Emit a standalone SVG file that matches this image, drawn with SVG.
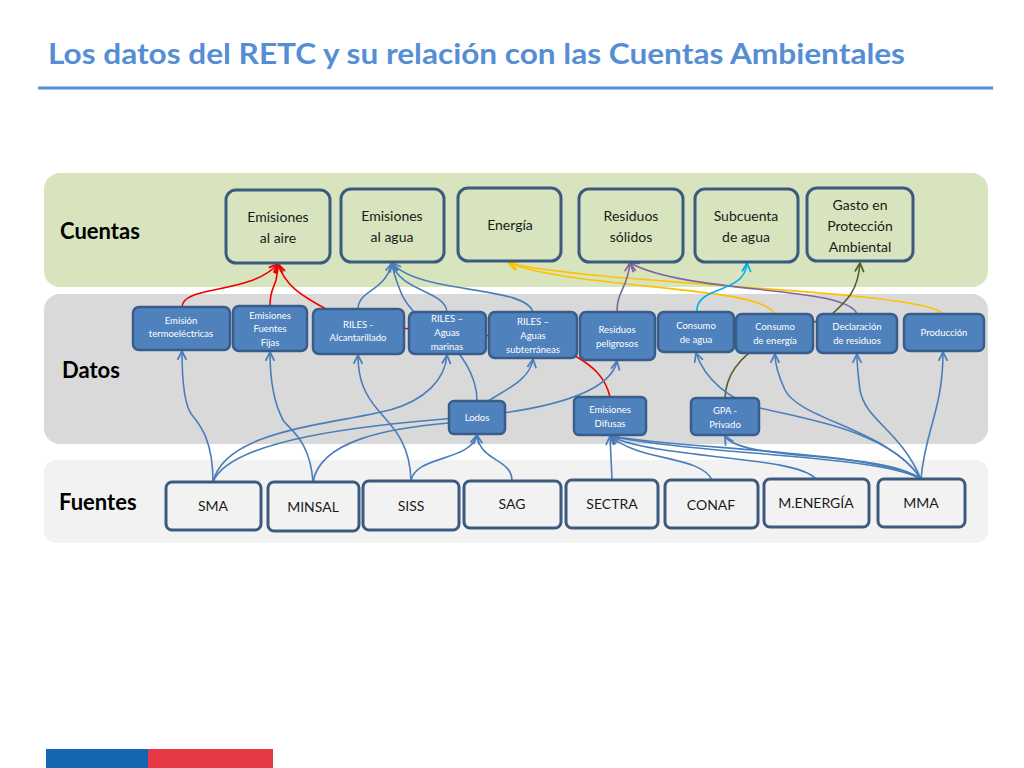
<svg xmlns="http://www.w3.org/2000/svg" width="1024" height="768" viewBox="0 0 1024 768">
<style>
.t{font-family:Lato,"Open Sans","Liberation Sans",sans-serif}
.band-c{fill:#d7e4bd}
.band-d{fill:#d9d9d9}
.band-f{fill:#f2f2f2}
.lab{font-family:Lato,"Liberation Sans",sans-serif;font-weight:bold;font-size:22px;fill:#000}
.cn rect{fill:#d7e4bd;stroke:#3c5a80;stroke-width:3}
.cn text{font-family:Lato,"Liberation Sans",sans-serif;font-size:14px;fill:#1a1a1a;text-anchor:middle}
.dn rect{fill:#4f81bd;stroke:#385d8a;stroke-width:2.5}
.dn text{font-family:Lato,"Liberation Sans",sans-serif;font-size:9.5px;fill:#fff;text-anchor:middle}
.fn rect{fill:#f2f2f2;stroke:#3c5a80;stroke-width:3}
.fn text{font-family:Lato,"Liberation Sans",sans-serif;font-size:14px;fill:#1a1a1a;text-anchor:middle}
.c{fill:none;stroke-width:1.6}
.b{stroke:#4a7ebb;marker-end:url(#ab)}
.r{stroke:#ee0000;marker-end:url(#ar)}
.y{stroke:#ffc000;marker-end:url(#ay)}
.p{stroke:#7f64a2;marker-end:url(#ap)}
.cy{stroke:#00b0f0;marker-end:url(#ac)}
.o{stroke:#4f6228;marker-end:url(#ao)}
.nm{marker-end:none}
</style>
<defs>
<marker id="ab" viewBox="0 0 10 10" refX="9" refY="5" markerWidth="11" markerHeight="11" markerUnits="userSpaceOnUse" orient="auto"><path d="M1,1 L9,5 L1,9" fill="none" stroke="#4a7ebb" stroke-width="1.6"/></marker>
<marker id="ar" viewBox="0 0 10 10" refX="9" refY="5" markerWidth="11" markerHeight="11" markerUnits="userSpaceOnUse" orient="auto"><path d="M1,1 L9,5 L1,9" fill="none" stroke="#ee0000" stroke-width="1.8"/></marker>
<marker id="ay" viewBox="0 0 10 10" refX="9" refY="5" markerWidth="11" markerHeight="11" markerUnits="userSpaceOnUse" orient="auto"><path d="M1,1 L9,5 L1,9" fill="none" stroke="#ffc000" stroke-width="1.8"/></marker>
<marker id="ap" viewBox="0 0 10 10" refX="9" refY="5" markerWidth="11" markerHeight="11" markerUnits="userSpaceOnUse" orient="auto"><path d="M1,1 L9,5 L1,9" fill="none" stroke="#7f64a2" stroke-width="1.6"/></marker>
<marker id="ac" viewBox="0 0 10 10" refX="9" refY="5" markerWidth="11" markerHeight="11" markerUnits="userSpaceOnUse" orient="auto"><path d="M1,1 L9,5 L1,9" fill="none" stroke="#00b0f0" stroke-width="1.6"/></marker>
<marker id="ao" viewBox="0 0 10 10" refX="9" refY="5" markerWidth="11" markerHeight="11" markerUnits="userSpaceOnUse" orient="auto"><path d="M1,1 L9,5 L1,9" fill="none" stroke="#4f6228" stroke-width="1.6"/></marker>
</defs>

<rect width="1024" height="768" fill="#fff"/>
<g id="title">
<text class="t" x="48" y="64" font-size="29" font-weight="bold" fill="#558ed5" textLength="857" lengthAdjust="spacingAndGlyphs">Los datos del RETC y su relación con las Cuentas Ambientales</text>
<line x1="38" y1="88" x2="993" y2="88" stroke="#558ed5" stroke-width="3"/>
</g>

<g id="bands">
<rect class="band-c" x="44" y="173" width="944" height="114" rx="16"/>
<rect class="band-d" x="44" y="294" width="944" height="150" rx="16"/>
<rect class="band-f" x="44" y="460" width="944" height="83" rx="12"/>
<text class="lab" x="60" y="239">Cuentas</text>
<text class="lab" x="62" y="378">Datos</text>
<text class="lab" x="59" y="510">Fuentes</text>
</g>

<g id="connectors">
<path class="c r" d="M182 307 C182 285 250 295 278 264"/>
<path class="c r" d="M270 306 C270 290 274 288 276 280 C277 275 278 270 278 264"/>
<path class="c r" d="M610 397 C605 375 590 365 577 357 C540 335 420 330 400 328 C360 325 335 315 326 309 C300 295 285 285 278 264"/>
<path class="c b" d="M358 309 C358 290 385 292 392 263"/>
<path class="c b" d="M477 401 C477 375 460 350 440 335 C420 320 405 305 400 290 C396 280 393 272 392 263"/>
<path class="c b" d="M447 312 C445 290 400 292 392 263"/>
<path class="c b" d="M533 312 C525 285 420 295 392 263"/>
<path class="c y" d="M775 314 C760 285 580 290 509 263"/>
<path class="c y" d="M943 314 C925 290 600 285 509 263"/>
<path class="c p" d="M617 312 C617 290 627 290 630 263"/>
<path class="c p" d="M857 314 C845 285 690 295 630 263"/>
<path class="c cy" d="M697 312 C695 285 745 295 747 263"/>
<path class="c o" d="M725 398 C726 370 745 350 780 335 C810 322 825 320 832 314 C848 300 858 290 860 263"/>
<path class="c b" d="M213 482 C213 440 200 425 192 415 C184 405 182 380 182 351"/>
<path class="c b" d="M213 482 C225 430 330 425 390 410 C425 400 445 380 447 355"/>
<path class="c b" d="M213 482 C230 440 360 425 470 417 C540 410 610 395 617 361"/>
<path class="c b" d="M313 482 C310 440 290 430 283 420 C275 405 270 380 270 352"/>
<path class="c b nm" d="M313 482 C320 440 390 428 449 423"/>
<path class="c b" d="M411 481 C410 440 390 425 378 410 C365 395 358 380 358 355"/>
<path class="c b" d="M411 481 C415 455 470 462 477 435"/>
<path class="c b" d="M512 481 C512 458 480 462 477 435"/>
<path class="c b" d="M488 401 C505 390 530 380 533 359"/>
<path class="c b" d="M612 480 L610 436"/>
<path class="c b" d="M712 480 C700 455 640 462 610 436"/>
<path class="c b" d="M816 479 C795 455 660 460 610 436"/>
<path class="c b" d="M921 479 C880 455 700 455 610 436"/>
<path class="c b" d="M921 479 C870 450 690 450 610 436"/>
<path class="c b" d="M921 479 C880 450 740 462 725 436"/>
<path class="c b" d="M921 479 C890 430 800 418 760 408 C730 400 705 380 696 353"/>
<path class="c b" d="M921 479 C890 430 800 420 785 390 C778 375 775 365 775 354"/>
<path class="c b" d="M921 479 C900 430 865 420 860 390 C858 375 857 365 857 354"/>
<path class="c b" d="M921 479 C925 430 943 410 943 352"/>
</g>

<g id="n-aire" class="cn"><rect x="226" y="190" width="104" height="73" rx="10"/><text x="278" y="222">Emisiones</text><text x="278" y="243">al aire</text></g>
<g id="n-agua" class="cn"><rect x="341" y="189" width="103" height="73" rx="10"/><text x="392" y="221">Emisiones</text><text x="392" y="242">al agua</text></g>
<g id="n-energia" class="cn"><rect x="458" y="188" width="103" height="73" rx="10"/><text x="510" y="230">Energía</text></g>
<g id="n-residuos" class="cn"><rect x="579" y="189" width="104" height="73" rx="10"/><text x="631" y="221">Residuos</text><text x="631" y="242">sólidos</text></g>
<g id="n-subcuenta" class="cn"><rect x="695" y="189" width="103" height="73" rx="10"/><text x="746" y="221">Subcuenta</text><text x="746" y="242">de agua</text></g>
<g id="n-gasto" class="cn"><rect x="807" y="188" width="106" height="73" rx="10"/><text x="860" y="210">Gasto en</text><text x="860" y="231">Protección</text><text x="860" y="252">Ambiental</text></g>

<g id="d-termo" class="dn"><rect x="133" y="307" width="97" height="43" rx="6"/><text x="181" y="324">Emisión</text><text x="181" y="337">termoeléctricas</text></g>
<g id="d-fijas" class="dn"><rect x="233" y="306" width="74" height="45" rx="6"/><text x="270" y="319">Emisiones</text><text x="270" y="332">Fuentes</text><text x="270" y="346">Fijas</text></g>
<g id="d-alcant" class="dn"><rect x="313" y="309" width="91" height="45" rx="6"/><text x="358" y="328">RILES -</text><text x="358" y="341">Alcantarillado</text></g>
<g id="d-marinas" class="dn"><rect x="409" y="312" width="77" height="42" rx="6"/><text x="447" y="322">RILES –</text><text x="447" y="336">Aguas</text><text x="447" y="350">marinas</text></g>
<g id="d-subt" class="dn"><rect x="489" y="312" width="88" height="46" rx="6"/><text x="533" y="325">RILES –</text><text x="533" y="339">Aguas</text><text x="533" y="353">subterráneas</text></g>
<g id="d-peligrosos" class="dn"><rect x="580" y="312" width="75" height="48" rx="6"/><text x="617" y="333">Residuos</text><text x="617" y="347">peligrosos</text></g>
<g id="d-cagua" class="dn"><rect x="658" y="312" width="76" height="40" rx="6"/><text x="696" y="329">Consumo</text><text x="696" y="343">de agua</text></g>
<g id="d-cenergia" class="dn"><rect x="736" y="314" width="77" height="39" rx="6"/><text x="775" y="330">Consumo</text><text x="775" y="344">de energía</text></g>
<g id="d-declaracion" class="dn"><rect x="817" y="314" width="80" height="39" rx="6"/><text x="857" y="330">Declaración</text><text x="857" y="344">de residuos</text></g>
<g id="d-produccion" class="dn"><rect x="904" y="314" width="80" height="37" rx="6"/><text x="944" y="336">Producción</text></g>
<g id="d-lodos" class="dn"><rect x="449" y="401" width="56" height="33" rx="5"/><text x="477" y="421">Lodos</text></g>
<g id="d-difusas" class="dn"><rect x="574" y="397" width="72" height="38" rx="5"/><text x="610" y="413">Emisiones</text><text x="610" y="427">Difusas</text></g>
<g id="d-gpa" class="dn"><rect x="691" y="398" width="68" height="37" rx="5"/><text x="725" y="414">GPA -</text><text x="725" y="428">Privado</text></g>

<g id="f-sma" class="fn"><rect x="166" y="482" width="95" height="48" rx="6"/><text x="213" y="511">SMA</text></g>
<g id="f-minsal" class="fn"><rect x="268" y="482" width="91" height="49" rx="6"/><text x="313" y="512">MINSAL</text></g>
<g id="f-siss" class="fn"><rect x="363" y="481" width="96" height="49" rx="6"/><text x="411" y="511">SISS</text></g>
<g id="f-sag" class="fn"><rect x="464" y="481" width="97" height="47" rx="6"/><text x="512" y="509">SAG</text></g>
<g id="f-sectra" class="fn"><rect x="566" y="480" width="92" height="48" rx="6"/><text x="612" y="509">SECTRA</text></g>
<g id="f-conaf" class="fn"><rect x="665" y="480" width="93" height="48" rx="6"/><text x="711" y="510">CONAF</text></g>
<g id="f-menergia" class="fn"><rect x="764" y="479" width="105" height="48" rx="6"/><text x="816" y="508">M.ENERGÍA</text></g>
<g id="f-mma" class="fn"><rect x="878" y="479" width="87" height="48" rx="6"/><text x="921" y="508">MMA</text></g>

<g id="footer">
<rect x="46" y="749" width="102" height="19" fill="#1565b0"/>
<rect x="148" y="749" width="125" height="19" fill="#e63946"/>
</g>
</svg>
